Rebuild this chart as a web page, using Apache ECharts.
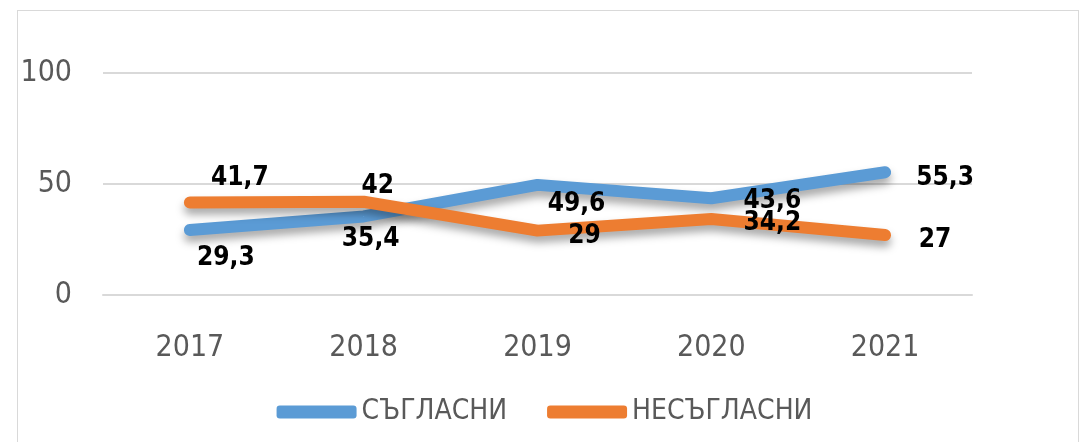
<!DOCTYPE html>
<html><head><meta charset="utf-8">
<script src="https://cdn.jsdelivr.net/npm/echarts@6/dist/echarts.min.js"></script>
<style>html,body{margin:0;padding:0;background:#fff}#c{width:1089px;height:442px}
#frame{position:absolute;left:17px;top:10px;width:1062px;height:440px;border:1px solid #d9d9d9;box-sizing:border-box;pointer-events:none}</style>
</head><body><div id="c"></div><div id="frame"></div>
<script>
const categories = ['2017', '2018', '2019', '2020', '2021'];
const agree = [29.3, 35.4, 49.6, 43.6, 55.3];
const disagree = [41.7, 42, 29, 34.2, 27];
const yTicks = [0, 50, 100];
const seriesNames = ['СЪГЛАСНИ', 'НЕСЪГЛАСНИ'];

const agreeOffsets = [[36, 28], [7, 23], [39, 19], [61, 3], [60, 6]];
const disagreeOffsets = [[50, -24], [14, -16], [47, 6], [61, 4], [50, 5]];

const FONT = 'DejaVu Sans Condensed, DejaVu Sans, sans-serif';
const fmt = v => String(v).replace('.', ',');
function build(vals, offs) {
  return vals.map((v, i) => ({
    value: v,
    label: { show: true, position: 'inside', offset: offs[i], formatter: p => fmt(p.value) }
  }));
}
const labelFont = { fontFamily: FONT, fontWeight: 'bold', fontSize: 26, color: '#000' };

const chart = echarts.init(document.getElementById('c'));
chart.setOption({
  animation: false,
  grid: { left: 103, right: 117, top: 73, bottom: 147 },
  legend: {
    bottom: 11, left: 'center', itemWidth: 80, itemHeight: 13, itemGap: 40,
    icon: 'roundRect',
    textStyle: { fontFamily: FONT, fontSize: 28, color: '#595959' },
    data: seriesNames
  },
  xAxis: {
    type: 'category', data: categories, boundaryGap: true,
    axisLine: { show: true, lineStyle: { color: '#d9d9d9', width: 2 } },
    axisTick: { show: false },
    axisLabel: { margin: 38, fontFamily: FONT, fontSize: 30, color: '#595959' }
  },
  yAxis: {
    type: 'value', min: yTicks[0], max: yTicks[yTicks.length - 1], interval: 50,
    axisLine: { show: false }, axisTick: { show: false },
    splitLine: { lineStyle: { color: '#d9d9d9', width: 2 } },
    axisLabel: { margin: 31, fontFamily: FONT, fontSize: 30, color: '#595959' }
  },
  series: [
    {
      name: seriesNames[0], type: 'line', data: build(agree, agreeOffsets),
      showSymbol: true, symbol: 'circle', symbolSize: 1, color: '#5b9bd5',
      itemStyle: { color: '#5b9bd5' },
      lineStyle: { width: 12, color: '#5b9bd5', cap: 'round', join: 'round', shadowColor: 'rgba(0,0,0,0.35)', shadowBlur: 8, shadowOffsetY: 6 },
      label: labelFont
    },
    {
      name: seriesNames[1], type: 'line', data: build(disagree, disagreeOffsets),
      showSymbol: true, symbol: 'circle', symbolSize: 1, color: '#ed7d31',
      itemStyle: { color: '#ed7d31' },
      lineStyle: { width: 12, color: '#ed7d31', cap: 'round', join: 'round', shadowColor: 'rgba(0,0,0,0.35)', shadowBlur: 8, shadowOffsetY: 6 },
      label: labelFont
    }
  ]
});
</script></body></html>
